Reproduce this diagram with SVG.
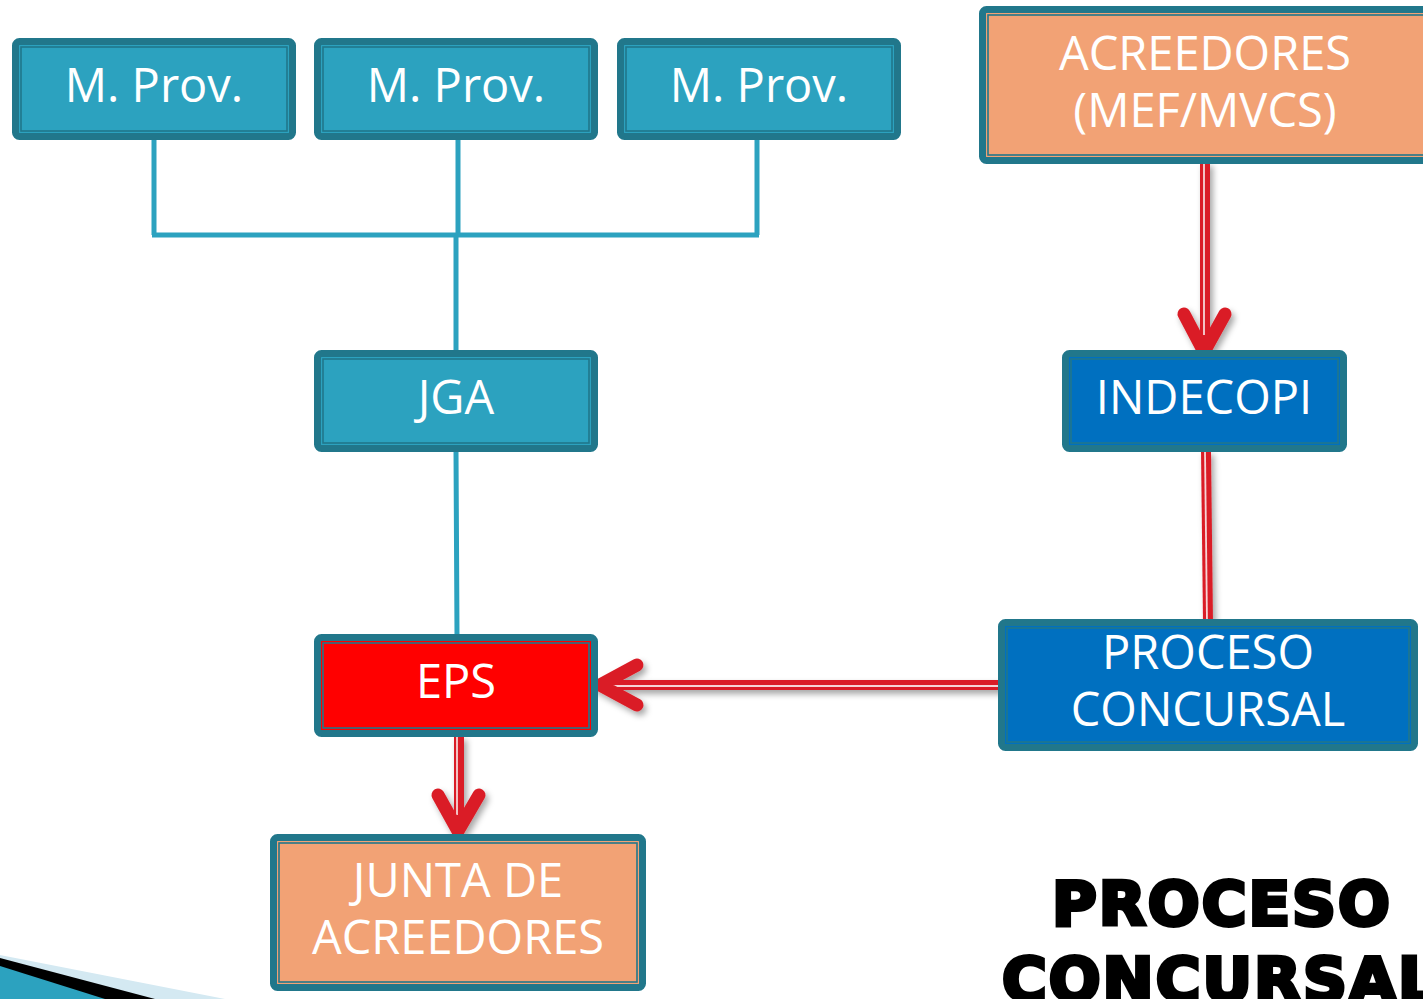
<svg xmlns="http://www.w3.org/2000/svg" width="1423" height="999" viewBox="0 0 1423 999">
<style>
.frame{stroke:#21778B;stroke-width:7;}
.inner{fill:none;stroke:#21778B;stroke-width:1.6;}
.teal{fill:#2CA2BF;}
.orange{fill:#F2A275;}
.blue{fill:#0070C0;}
.red{fill:#FF0000;}
.lbl{font-family:"Open Sans","Noto Sans",sans-serif;font-size:47px;fill:#FFFFFF;text-anchor:middle;}
.conn{stroke:#2CA2BF;stroke-width:5;fill:none;}
.rline{stroke:#DA1F28;stroke-width:10;fill:none;}
.rgap{stroke:#F6D4D5;stroke-width:1.8;fill:none;}
.head{stroke:#DA1F28;stroke-width:13;stroke-linecap:round;stroke-linejoin:miter;fill:none;}
.big{font-family:"DejaVu Sans","Liberation Sans",sans-serif;font-weight:bold;font-size:61px;fill:#000;stroke:#000;stroke-width:4;letter-spacing:2px;}
</style>
<defs>
<filter id="sh" x="-20%" y="-20%" width="140%" height="140%">
<feDropShadow dx="3" dy="4" stdDeviation="3" flood-color="#000" flood-opacity="0.35"/>
</filter>
</defs>
<rect width="1423" height="999" fill="#FFFFFF"/>

<g id="connectors">
<path class="conn" d="M154 137 V235 M458 137 V235 M757 137 V235 M152 235 H759 M456 235 V352 M456 450 L457 636"/>
<g filter="url(#sh)">
<path class="rline" d="M1205 162 V345"/>
<path class="rgap" d="M1204 162 V335"/>
<path class="head" d="M1184 314 L1204 352 L1225 314"/>
<path class="rline" d="M1206 451 L1208 622"/>
<path class="rgap" d="M1205 451 L1207 622"/>
<path class="rline" d="M1001 685 H604"/>
<path class="rgap" d="M1001 686 H612"/>
<path class="head" d="M637 665 L600 685 L637 705"/>
<path class="rline" d="M459 736 V826"/>
<path class="rgap" d="M457 736 V815"/>
<path class="head" d="M438 795 L458 831 L479 795"/>
</g>
</g>

<g id="mprov1">
<rect class="frame teal" x="15.5" y="41.5" width="277" height="95" rx="4"/>
<rect class="inner" x="21" y="47" width="266" height="84"/>
<text class="lbl" x="154" y="102">M. Prov.</text>
</g>
<g id="mprov2">
<rect class="frame teal" x="317.5" y="41.5" width="277" height="95" rx="4"/>
<rect class="inner" x="323" y="47" width="266" height="84"/>
<text class="lbl" x="456" y="102">M. Prov.</text>
</g>
<g id="mprov3">
<rect class="frame teal" x="620.5" y="41.5" width="277" height="95" rx="4"/>
<rect class="inner" x="626" y="47" width="266" height="84"/>
<text class="lbl" x="759" y="102">M. Prov.</text>
</g>
<g id="acreedores">
<rect class="frame orange" x="982.5" y="9.5" width="450" height="151" rx="4"/>
<rect class="inner" x="988" y="15" width="440" height="140"/>
<text class="lbl" x="1205" y="70">ACREEDORES</text>
<text class="lbl" x="1205" y="127">(MEF/MVCS)</text>
</g>
<g id="jga">
<rect class="frame teal" x="317.5" y="353.5" width="277" height="95" rx="4"/>
<rect class="inner" x="323" y="359" width="266" height="84"/>
<text class="lbl" x="456" y="414">JGA</text>
</g>
<g id="indecopi">
<rect class="frame blue" x="1065.5" y="353.5" width="278" height="95" rx="4"/>
<rect class="inner" x="1071" y="359" width="267" height="84"/>
<text class="lbl" x="1204" y="414">INDECOPI</text>
</g>
<g id="eps">
<rect class="frame red" x="317.5" y="637.5" width="277" height="96" rx="4"/>
<rect class="inner" x="323" y="643" width="266" height="85"/>
<text class="lbl" x="456" y="698">EPS</text>
</g>
<g id="proceso">
<rect class="frame blue" x="1001.5" y="622.5" width="413" height="125" rx="4"/>
<rect class="inner" x="1007" y="628" width="402" height="114"/>
<text class="lbl" x="1208" y="669">PROCESO</text>
<text class="lbl" x="1208" y="726">CONCURSAL</text>
</g>
<g id="junta">
<rect class="frame orange" x="273.5" y="837.5" width="369" height="150" rx="4"/>
<rect class="inner" x="279" y="843" width="358" height="139"/>
<text class="lbl" x="458" y="897">JUNTA DE</text>
<text class="lbl" x="458" y="954">ACREEDORES</text>
</g>

<g id="title">
<text class="big" x="1222" y="925" text-anchor="middle">PROCESO</text>
<text class="big" x="1002" y="1001">CONCURSAL</text>
</g>

<g id="corner">
<polygon points="0,955 0,999 225,999" fill="#D4E9F2"/>
<polygon points="0,958 0,999 155,999" fill="#000000"/>
<polygon points="0,966 0,999 105,999" fill="#2CA2BF"/>
</g>
</svg>
